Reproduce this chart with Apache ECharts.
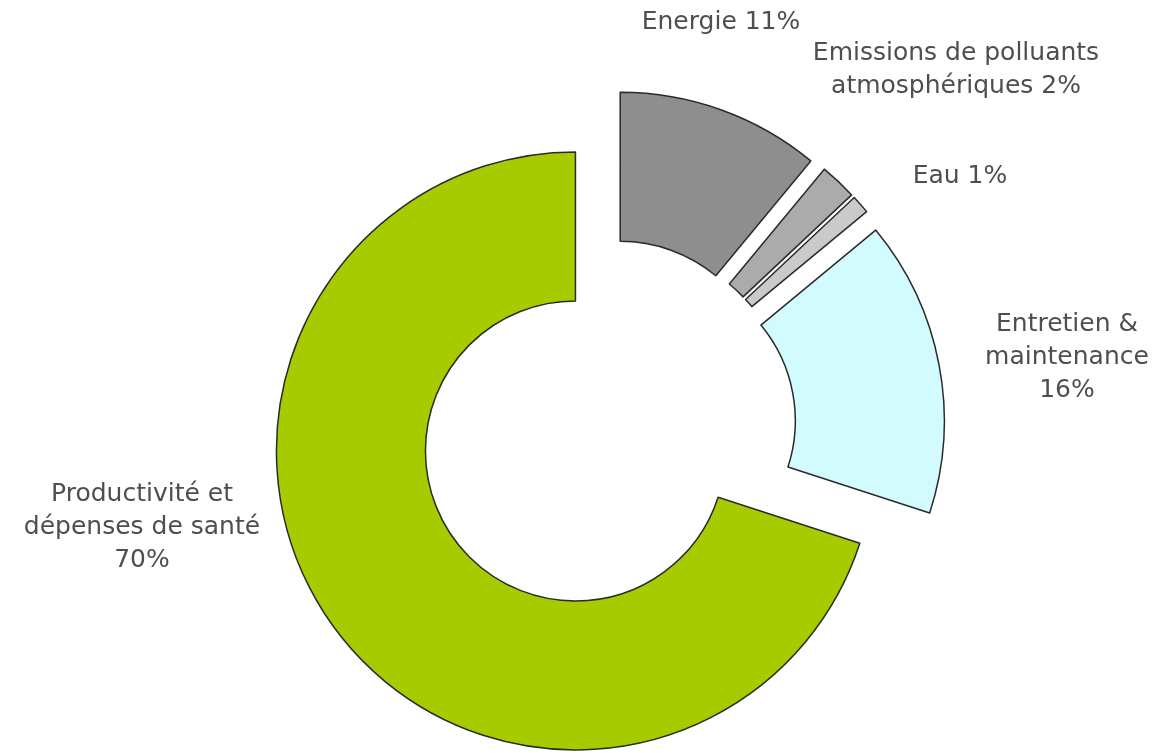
<!DOCTYPE html>
<html><head><meta charset="utf-8">
<script src="https://cdn.jsdelivr.net/npm/echarts@6/dist/echarts.min.js"></script>
<style>html,body{margin:0;padding:0;background:#fff}#c{width:1160px;height:753px}</style>
</head><body><div id="c"></div>
<script>
var categories = ["Energie", "Emissions de polluants atmosphériques", "Eau", "Entretien & maintenance", "Productivité et dépenses de santé"];
var values = [11, 2, 1, 16, 70];
var labels = ["Energie 11%", "Emissions de polluants\natmosphériques 2%", "Eau 1%", "Entretien &\nmaintenance\n16%", "Productivité et\ndépenses de santé\n70%"];
var colors = ["#8e8e8e", "#ababab", "#cacaca", "#d2fbff", "#a6cc00"];
var labelPos = [[721, 22], [956, 70], [960, 176], [1067, 357], [142, 527]];

var chart = echarts.init(document.getElementById('c'));
chart.setOption({
  animation: false,
  graphic: labels.map(function (t, i) {
    return {
      type: 'text',
      x: labelPos[i][0],
      y: labelPos[i][1],
      silent: true,
      style: {
        text: t,
        fill: '#4e4e4e',
        font: '25px "DejaVu Sans"',
        lineHeight: 33,
        align: 'center',
        verticalAlign: 'middle'
      }
    };
  }),
  series: [{
    type: 'pie',
    center: [607, 428],
    radius: [150, 299],
    startAngle: 90,
    clockwise: true,
    selectedMode: 'multiple',
    selectedOffset: 39,
    avoidLabelOverlap: false,
    itemStyle: { borderColor: '#2a2a2a', borderWidth: 1.5 },
    emphasis: { disabled: true },
    label: { show: false },
    labelLine: { show: false },
    data: categories.map(function (c, i) {
      return { name: c, value: values[i], selected: true, itemStyle: { color: colors[i] } };
    })
  }]
});
</script></body></html>
